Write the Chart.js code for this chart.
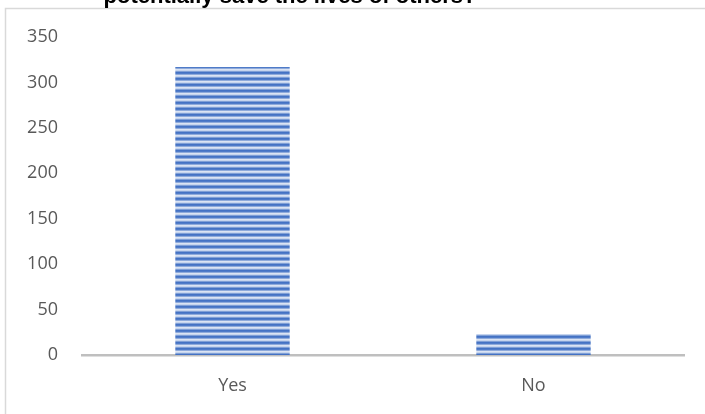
<!DOCTYPE html>
<html>
<head>
<meta charset="utf-8">
<script src="https://cdn.jsdelivr.net/npm/chart.js@4.4.1/dist/chart.umd.min.js"></script>
<style>
  html, body { margin: 0; padding: 0; background: #fff; }
  #wrap { width: 705px; height: 414px; position: relative; }
</style>
</head>
<body>
<div id="wrap"><canvas id="mycanvas" width="705" height="414"></canvas></div>
<script>
var titleText = "potentially save the lives of others?";
var answers = ["Yes", "No"];
var counts = [317, 23];
var yTicks = [0, 50, 100, 150, 200, 250, 300, 350];

// striped fill like the office "horizontal lines" pattern
function makeStripes() {
    var c = document.createElement("canvas");
    c.width = 6;
    c.height = 6;
    var g = c.getContext("2d");
    var rows = ["#4472c4", "#4f7bc8", "#8eaadb", "#dae3f3", "#c5d4ee", "#7f9fd6"];
    for (var i = 0; i < rows.length; i++) {
        g.fillStyle = rows[i];
        g.fillRect(0, i, 6, 1);
    }
    return g.createPattern(c, "repeat");
}

var frame = {
    id: "frame",
    beforeDraw: function(chart) {
        var ctx = chart.ctx;
        ctx.save();
        ctx.strokeStyle = "#d9d9d9";
        ctx.lineWidth = 1.5;
        ctx.strokeRect(5.5, 8.5, 760, 460);
        ctx.fillStyle = "#000";
        ctx.font = "bold 22px 'Liberation Sans', Arial, sans-serif";
        ctx.textAlign = "center";
        ctx.textBaseline = "alphabetic";
        ctx.fillText(titleText, 290, 3);
        ctx.restore();
    }
};

var ctx = document.getElementById("mycanvas").getContext("2d");
var stripes = makeStripes();

var chartdata = {
    labels: answers,
    datasets: [{
        label: "Responses",
        data: counts,
        backgroundColor: stripes,
        borderWidth: 0,
        categoryPercentage: 1,
        barPercentage: 0.38
    }]
};

var BarGraph = new Chart(ctx, {
    type: "bar",
    data: chartdata,
    plugins: [frame],
    options: {
        responsive: false,
        animation: false,
        layout: { padding: { left: 0, right: 21, top: 37, bottom: 0 } },
        plugins: {
            legend: { display: false },
            tooltip: { enabled: false }
        },
        scales: {
            x: {
                grid: { display: false, drawTicks: false },
                border: { display: true, color: "#bfbfbf", width: 2.5 },
                ticks: {
                    color: "#595959",
                    padding: 20,
                    font: { family: "'Open Sans', sans-serif", size: 18 }
                },
                afterFit: function(scale) { scale.height = 59; }
            },
            y: {
                min: 0,
                max: 350,
                grid: { display: false, drawTicks: false },
                border: { display: false },
                afterBuildTicks: function(scale) {
                    scale.ticks = yTicks.map(function(v) { return { value: v }; });
                },
                ticks: {
                    color: "#595959",
                    padding: 24,
                    font: { family: "'Open Sans', sans-serif", size: 18 }
                },
                afterFit: function(scale) { scale.width = 82; }
            }
        }
    }
});
</script>
</body>
</html>
